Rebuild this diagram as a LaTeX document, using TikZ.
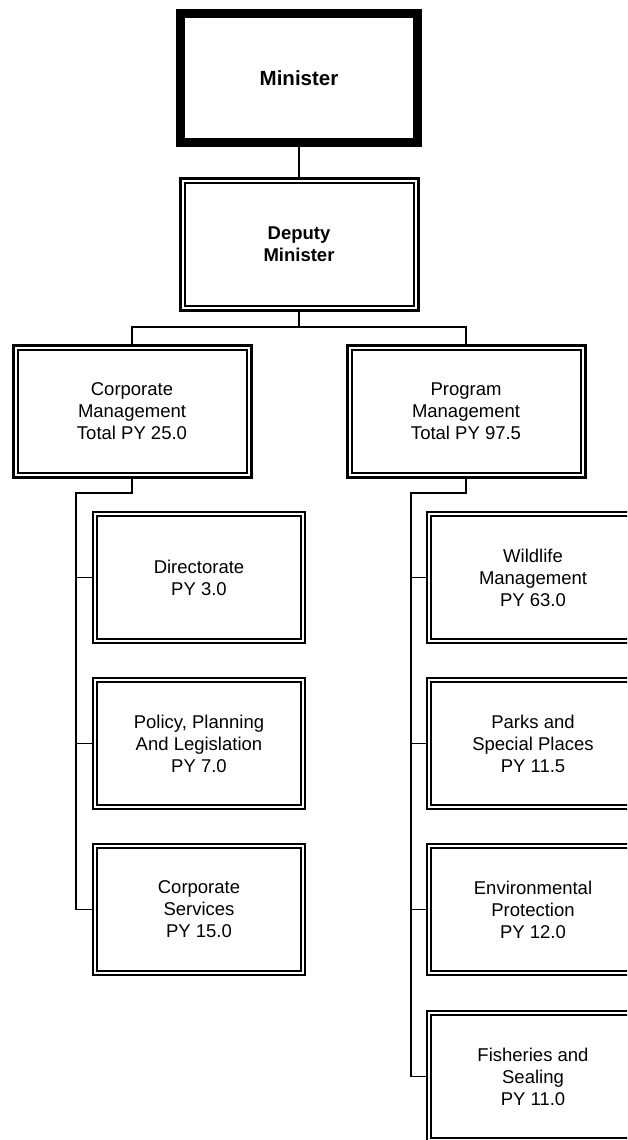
\documentclass[tikz,border=0pt]{standalone}
\usepackage{fontspec}
\setmainfont{Liberation Sans}
\tikzset{
  topbox/.style={draw, line width=9pt, minimum width=237pt, minimum height=128pt,
    align=center, inner sep=0pt, font=\fontsize{20.5}{24}\selectfont\bfseries},
  headbox/.style={draw, line width=3pt, minimum width=238pt, minimum height=132pt,
    align=center, inner sep=0pt, font=\fontsize{18.5}{22}\selectfont,
    path picture={\draw[line width=2pt]
      ([shift={(4.5pt,-4.5pt)}]path picture bounding box.north west) rectangle
      ([shift={(-4.5pt,4.5pt)}]path picture bounding box.south east);}},
  unitbox/.style={draw, line width=2pt, minimum width=212pt, minimum height=131pt,
    align=center, inner sep=0pt, font=\fontsize{18.5}{22}\selectfont,
    path picture={\draw[line width=1.5pt]
      ([shift={(4pt,-4pt)}]path picture bounding box.north west) rectangle
      ([shift={(-4pt,4pt)}]path picture bounding box.south east);}},
  link/.style={line width=1.6pt}
}
\begin{document}
\begin{tikzpicture}[x=1pt, y=-1pt]
\clip (0,0) rectangle (627,1140);
\node[topbox] (min) at (299,78) {Minister};
\node[headbox, font=\fontsize{18.5}{22}\selectfont\bfseries] (dep) at (299,244.5) {Deputy\\Minister};
\node[headbox] (cm) at (132,411.5) {Corporate\\Management\\Total PY 25.0};
\node[headbox] (pm) at (466,411) {Program\\Management\\Total PY 97.5};
% corporate management units
\node[unitbox] (dir) at (199,577.5) {Directorate\\PY 3.0};
\node[unitbox] (ppl) at (199,743.5) {Policy, Planning\\And Legislation\\PY 7.0};
\node[unitbox] (cs) at (199,909.5) {Corporate\\Services\\PY 15.0};
% program management units
\node[unitbox] (wm) at (533,577.5) {Wildlife\\Management\\PY 63.0};
\node[unitbox] (psp) at (533,743.5) {Parks and\\Special Places\\PY 11.5};
\node[unitbox] (ep) at (533,909.5) {Environmental\\Protection\\PY 12.0};
\node[unitbox] (fs) at (533,1076.5) {Fisheries and\\Sealing\\PY 11.0};
\coordinate (bus) at (299,327);
\coordinate (cmbend) at (76,493);
\coordinate (pmbend) at (411,493);
\draw[link] (min) -- (dep);
\draw[link] (dep) -- (bus);
\draw[link] (cm.north) |- (bus) -| (pm.north);
\draw[link] (cm.south) |- (cmbend) |- (cs.west);
\draw[link] (cmbend |- dir.west) -- (dir.west);
\draw[link] (cmbend |- ppl.west) -- (ppl.west);
\draw[link] (pm.south) |- (pmbend) |- (fs.west);
\draw[link] (pmbend |- wm.west) -- (wm.west);
\draw[link] (pmbend |- psp.west) -- (psp.west);
\draw[link] (pmbend |- ep.west) -- (ep.west);
\end{tikzpicture}
\end{document}
